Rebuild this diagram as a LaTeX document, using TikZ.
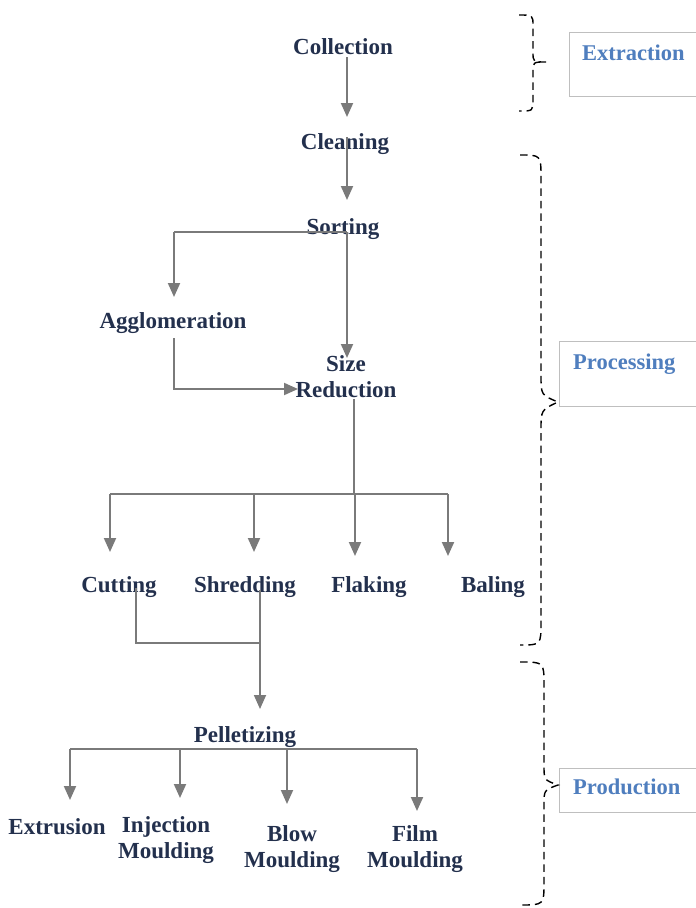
\documentclass[tikz,border=0pt]{standalone}
\usepackage{fontspec}
\setmainfont{Liberation Serif}
\usetikzlibrary{arrows.meta}
\definecolor{txt}{HTML}{23304D}
\definecolor{ln}{HTML}{7A7A7A}
\definecolor{hdr}{HTML}{4F7EBE}
\tikzset{
  lbl/.style={font=\bfseries\fontsize{23}{26}\selectfont, text=txt, inner sep=0pt, anchor=base},
  lbltwo/.style={font=\bfseries\fontsize{23}{26}\selectfont, text=txt, inner sep=0pt, align=center,
    execute at begin node=\strut, execute at end node=\strut},
  htxt/.style={font=\bfseries\fontsize{22.5}{26}\selectfont, text=hdr, inner sep=0pt, anchor=base west},
  arr/.style={draw=ln, line width=2pt, -{Triangle[width=12pt,length=14pt]}},
  lin/.style={draw=ln, line width=2pt},
  hbox/.style={draw=black!25, fill=white, line width=0.8pt, anchor=north west, inner sep=0pt},
  bracepath/.style={draw=black, line width=1.4pt, dash pattern=on 7.5pt off 5pt}
}
\begin{document}
\begin{tikzpicture}[x=1pt,y=-1pt]
\useasboundingbox (0,0) rectangle (696,908);
% nodes
\node[lbl] (coll) at (343,54.5) {Collection};
\node[lbl] (clean) at (345,149.5) {Cleaning};
\node[lbl] (sort) at (343,234) {Sorting};
\node[lbl] (aggl) at (173,328) {Agglomeration};
\node[lbltwo] (size) at (346,380.8) {Size\\Reduction};
\node[lbl] (cut) at (119,592) {Cutting};
\node[lbl] (shred) at (245,592) {Shredding};
\node[lbl] (flak) at (369,592) {Flaking};
\node[lbl] (bal) at (493,592) {Baling};
\node[lbl] (pel) at (245,742) {Pelletizing};
\node[lbl] (ext) at (57,834) {Extrusion};
\node[lbltwo] (inj) at (166,841.8) {Injection\\Moulding};
\node[lbltwo] (blow) at (292,850.8) {Blow\\Moulding};
\node[lbltwo] (film) at (415,850.8) {Film\\Moulding};
% connector coordinates
\coordinate (a1) at (347,117);
\coordinate (a2) at (347,200);
\coordinate (s0) at (347,232);
\coordinate (s1) at (174,297);
\coordinate (s2) at (347,358);
\coordinate (g1) at (174,389);
\coordinate (g2) at (298,389);
\coordinate (r0) at (354,494);
\coordinate (d1) at (110,552);
\coordinate (d2) at (254,552);
\coordinate (d3) at (355,556);
\coordinate (d4) at (448,556);
\coordinate (c0) at (136,643);
\coordinate (m0) at (260,643);
\coordinate (m1) at (260,709);
\coordinate (p0) at (245,749);
\coordinate (e1) at (70,800);
\coordinate (e2) at (180,798);
\coordinate (e3) at (287,804);
\coordinate (e4) at (417,811);
% connectors
\draw[arr] ([yshift=-2.5pt]coll.base -| a1) -- (a1);
\draw[arr] ([yshift=12.5pt]clean.base -| a2) -- (a2);
\draw[lin] (s1 |- s0) -- (s0);
\draw[arr] (s1 |- s0) -- (s1);
\draw[arr] (s0) -- (s2);
\draw[arr] ([yshift=-10pt]aggl.base -| g1) -- (g1) -- (g2);
\draw[lin] ([yshift=7pt]size.south -| r0) -- (r0);
\draw[lin] (d1 |- r0) -- (d4 |- r0);
\draw[arr] (d1 |- r0) -- (d1);
\draw[arr] (d2 |- r0) -- (d2);
\draw[arr] (d3 |- r0) -- (d3);
\draw[arr] (d4 |- r0) -- (d4);
\draw[lin, line width=1.8pt] ([yshift=4pt]cut.base -| c0) -- (c0) -- (m0);
\draw[arr, line width=1.8pt] ([yshift=2pt]shred.base -| m0) -- (m1);
\draw[lin] (e1 |- p0) -- (e4 |- p0);
\draw[arr] (e1 |- p0) -- (e1);
\draw[arr] (e2 |- p0) -- (e2);
\draw[arr] (e3 |- p0) -- (e3);
\draw[arr] (e4 |- p0) -- (e4);
% stage boxes
\node[hbox, minimum width=130pt, minimum height=64pt] (bx1) at (569,32) {};
\node[htxt] (extr) at (582,60) {Extraction};
\node[hbox, minimum width=140pt, minimum height=65pt] (bx2) at (559,341) {};
\node[htxt] (proc) at (573,369) {Processing};
\node[hbox, minimum width=140pt, minimum height=44pt] (bx3) at (559,768) {};
\node[htxt] (prod) at (573,794) {Production};
% braces
\draw[bracepath] (519,15) .. controls (533,15) .. (533,26) -- (533,52) .. controls (533,62) .. (546,62) .. controls (533,62) .. (533,72) -- (533,100) .. controls (533,111) .. (519,111);
\draw[bracepath] (520,155) .. controls (541,155) .. (541,178) -- (541,375) .. controls (541,395) .. (558,402) .. controls (541,410) .. (541,430) -- (541,622) .. controls (541,645) .. (520,645);
\draw[bracepath] (520,662) .. controls (544,662) .. (544,685) -- (544,765) .. controls (544,780) .. (558,785) .. controls (544,790) .. (544,805) -- (544,882) .. controls (544,905) .. (520,905);
\end{tikzpicture}
\end{document}
